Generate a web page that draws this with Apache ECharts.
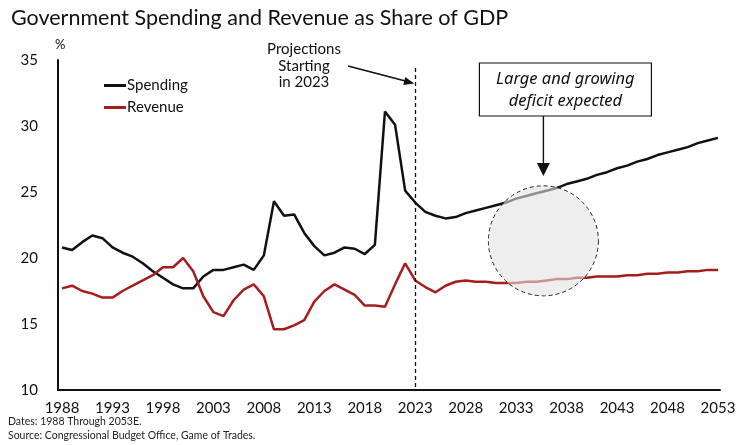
<!DOCTYPE html>
<html lang="en">
  <head>
    <meta charset="UTF-8" />
    <title>Government Spending and Revenue as Share of GDP</title>
    <script src="https://cdn.jsdelivr.net/npm/echarts@6.0.0/dist/echarts.min.js"></script>
    <style>
      html, body { margin: 0; padding: 0; background: #fff; }
    </style>
  </head>
  <body>
    <div id="main" style="width: 745px; height: 445px"></div>
    <script type="text/javascript">
      // years 1988 .. 2053 (2024 onward are CBO projections)
      const years = [
        1988, 1989, 1990, 1991, 1992, 1993, 1994, 1995, 1996, 1997, 1998, 1999,
        2000, 2001, 2002, 2003, 2004, 2005, 2006, 2007, 2008, 2009, 2010, 2011,
        2012, 2013, 2014, 2015, 2016, 2017, 2018, 2019, 2020, 2021, 2022, 2023,
        2024, 2025, 2026, 2027, 2028, 2029, 2030, 2031, 2032, 2033, 2034, 2035,
        2036, 2037, 2038, 2039, 2040, 2041, 2042, 2043, 2044, 2045, 2046, 2047,
        2048, 2049, 2050, 2051, 2052, 2053
      ];
      const spending = [
        20.8, 20.6, 21.2, 21.7, 21.5, 20.8, 20.4, 20.1, 19.6, 19.0, 18.5, 18.0,
        17.7, 17.7, 18.6, 19.1, 19.1, 19.3, 19.5, 19.1, 20.2, 24.3, 23.2, 23.3,
        21.9, 20.9, 20.2, 20.4, 20.8, 20.7, 20.3, 21.0, 31.1, 30.1, 25.1, 24.2,
        23.5, 23.2, 23.0, 23.1, 23.4, 23.6, 23.8, 24.0, 24.2, 24.5, 24.7, 24.9,
        25.1, 25.3, 25.6, 25.8, 26.0, 26.3, 26.5, 26.8, 27.0, 27.3, 27.5, 27.8,
        28.0, 28.2, 28.4, 28.7, 28.9, 29.1
      ];
      const revenue = [
        17.7, 17.9, 17.5, 17.3, 17.0, 17.0, 17.5, 17.9, 18.3, 18.7, 19.3, 19.3,
        20.0, 19.0, 17.1, 15.9, 15.6, 16.8, 17.6, 18.0, 17.1, 14.6, 14.6, 14.9,
        15.3, 16.7, 17.5, 18.0, 17.6, 17.2, 16.4, 16.4, 16.3, 18.0, 19.6, 18.3,
        17.8, 17.4, 17.9, 18.2, 18.3, 18.2, 18.2, 18.1, 18.1, 18.1, 18.2, 18.2,
        18.3, 18.4, 18.4, 18.5, 18.5, 18.6, 18.6, 18.6, 18.7, 18.7, 18.8, 18.8,
        18.9, 18.9, 19.0, 19.0, 19.1, 19.1
      ];
      const xTickLabels = [1988, 1993, 1998, 2003, 2008, 2013, 2018, 2023, 2028, 2033, 2038, 2043, 2048, 2053];
      const projectionStart = 2023;

      const red = "#a51d1d";
      const font = "Lato, 'Open Sans', sans-serif";

      let myChart = echarts.init(document.getElementById("main"));

      let options = {
        animation: false,
        textStyle: { fontFamily: font },
        title: {
          text: "Government Spending and Revenue as Share of GDP",
          left: 6,
          top: 2,
          textStyle: { fontSize: 21.5, fontWeight: "normal", color: "#111", fontFamily: font }
        },
        legend: {
          orient: "vertical",
          left: 99,
          top: 73,
          itemWidth: 22,
          itemHeight: 3,
          itemGap: 7,
          icon: "rect",
          textStyle: { fontSize: 15, color: "#111", padding: [0, 0, 0, -4] },
          data: ["Spending", "Revenue"]
        },
        grid: { left: 58, right: 25, top: 60, bottom: 55 },
        xAxis: {
          type: "value",
          min: 1987.6,
          max: 2053.2,
          axisLine: { lineStyle: { color: "#111", width: 2 } },
          axisTick: { show: false },
          splitLine: { show: false },
          axisLabel: {
            customValues: xTickLabels,
            fontSize: 15,
            color: "#111",
            margin: 11,
            formatter: (v) => String(v)
          }
        },
        yAxis: {
          type: "value",
          min: 10,
          max: 35,
          interval: 5,
          axisLine: { show: true, lineStyle: { color: "#111", width: 2 } },
          axisTick: { show: false },
          splitLine: { show: false },
          axisLabel: { fontSize: 15, color: "#111", margin: 20 }
        },
        series: [
          {
            name: "Spending",
            type: "line",
            data: years.map((y, i) => [y, spending[i]]),
            showSymbol: false,
            lineStyle: { color: "#111", width: 2.5 },
            itemStyle: { color: "#111" },
            z: 3,
            markLine: {
              silent: true,
              symbol: "none",
              label: { show: false },
              lineStyle: { color: "#111", type: [4, 3], width: 1.3 },
              data: [[{ coord: [projectionStart, 34.4] }, { coord: [projectionStart, 10] }]]
            }
          },
          {
            name: "Revenue",
            type: "line",
            data: years.map((y, i) => [y, revenue[i]]),
            showSymbol: false,
            lineStyle: { color: red, width: 2.5 },
            itemStyle: { color: red },
            z: 3
          }
        ]
      };
      myChart.setOption(options);

      // annotations anchored to the data coordinates
      const circleC = myChart.convertToPixel({ gridIndex: 0 }, [2035.7, 21.3]);
      const lineX = myChart.convertToPixel({ gridIndex: 0 }, [projectionStart, 30])[0];
      const boxCx = circleC[0];

      myChart.setOption({
        graphic: [
          {
            type: "text",
            left: 55,
            top: 38,
            style: { text: "%", fontSize: 13, fill: "#111", fontFamily: font }
          },
          {
            type: "text",
            x: 304,
            y: 41,
            style: {
              text: "Projections\nStarting\nin 2023",
              fontSize: 15,
              lineHeight: 16.5,
              fill: "#111",
              align: "center",
              fontFamily: font
            }
          },
          {
            type: "line",
            shape: { x1: 348, y1: 66, x2: lineX - 6, y2: 82 },
            style: { stroke: "#111", lineWidth: 1.6 }
          },
          {
            type: "polygon",
            shape: { points: [[lineX - 1, 83.5], [lineX - 10, 77], [lineX - 12, 85]] },
            style: { fill: "#111" }
          },
          {
            type: "rect",
            shape: { x: boxCx - 64, y: 63, width: 172, height: 53 },
            style: { fill: "#fff", stroke: "#111", lineWidth: 1.2 }
          },
          {
            type: "text",
            x: boxCx + 22,
            y: 68,
            style: {
              text: "Large and growing\ndeficit expected",
              fontSize: 16.5,
              lineHeight: 22,
              fontStyle: "italic",
              fill: "#111",
              align: "center",
              fontFamily: "'Noto Sans', sans-serif"
            }
          },
          {
            type: "line",
            shape: { x1: boxCx, y1: 116, x2: boxCx, y2: 165 },
            style: { stroke: "#111", lineWidth: 1.4 }
          },
          {
            type: "polygon",
            shape: { points: [[boxCx - 6.5, 163], [boxCx + 6.5, 163], [boxCx, 176]] },
            style: { fill: "#111" }
          },
          {
            type: "circle",
            z: 100,
            shape: { cx: circleC[0], cy: circleC[1], r: 55 },
            style: {
              fill: "rgba(226,226,226,0.6)",
              stroke: "#222",
              lineWidth: 1,
              lineDash: [4, 3]
            }
          },
          {
            type: "text",
            left: 8,
            top: 416,
            style: { text: "Dates: 1988 Through 2053E.", fontSize: 10.5, fill: "#222", fontFamily: font }
          },
          {
            type: "text",
            left: 8,
            top: 430,
            style: {
              text: "Source: Congressional Budget Office, Game of Trades.",
              fontSize: 10.5,
              fill: "#222",
              fontFamily: font
            }
          }
        ]
      });
    </script>
  </body>
</html>
